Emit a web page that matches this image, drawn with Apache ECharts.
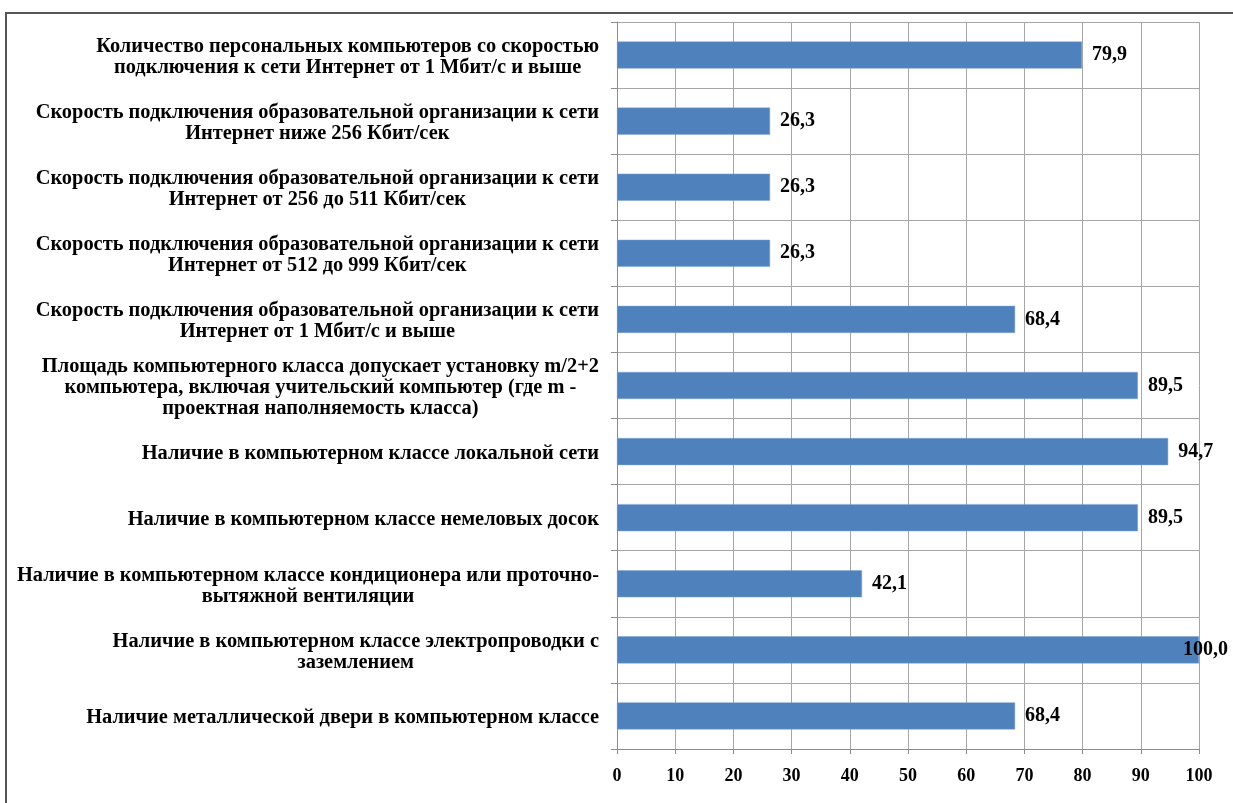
<!DOCTYPE html>
<html>
<head>
<meta charset="utf-8">
<style>
  html, body { margin: 0; padding: 0; background: #fff; }
  #chart { width: 1233px; height: 803px; }
</style>
<script src="https://cdn.jsdelivr.net/npm/echarts@6/dist/echarts.min.js"></script>
</head>
<body>
<div id="chart"></div>
<script>
// категории сверху вниз
const categories = [
  'Количество персональных компьютеров со скоростью\nподключения к сети Интернет от 1 Мбит/с и выше',
  'Скорость подключения образовательной организации к сети\nИнтернет ниже 256 Кбит/сек',
  'Скорость подключения образовательной организации к сети\nИнтернет от 256 до 511 Кбит/сек',
  'Скорость подключения образовательной организации к сети\nИнтернет от 512 до 999 Кбит/сек',
  'Скорость подключения образовательной организации к сети\nИнтернет от 1 Мбит/с и выше',
  'Площадь компьютерного класса допускает установку m/2+2\nкомпьютера, включая учительский компьютер (где m -\nпроектная наполняемость класса)',
  'Наличие в компьютерном классе локальной сети',
  'Наличие в компьютерном классе немеловых досок',
  'Наличие в компьютерном классе кондиционера или проточно-\nвытяжной вентиляции',
  'Наличие в компьютерном классе электропроводки с\nзаземлением',
  'Наличие металлической двери в компьютерном классе'
];
const values = [79.9, 26.3, 26.3, 26.3, 68.4, 89.5, 94.7, 89.5, 42.1, 100.0, 68.4];
const xTicks = { min: 0, max: 100, interval: 10 };

const font = '"Liberation Serif", "Times New Roman", serif';
const chart = echarts.init(document.getElementById('chart'));

// подпись у 100 сдвинута внутрь, как в исходнике
const barData = values.map(v => v >= 100
  ? { value: v, label: { offset: [-26, 0] } }
  : v);

chart.setOption({
  backgroundColor: '#fff',
  animation: false,
  graphic: [{
    type: 'rect',
    shape: { x: 6, y: 13, width: 1300, height: 900 },
    style: { fill: 'none', stroke: '#555', lineWidth: 2 }
  }],
  grid: { left: 617, right: 34, top: 22, bottom: 54 },
  xAxis: {
    type: 'value',
    min: xTicks.min,
    max: xTicks.max,
    interval: xTicks.interval,
    axisLine: { show: true, lineStyle: { color: '#8c8c8c' } },
    axisTick: { show: true, length: 5, lineStyle: { color: '#8c8c8c' } },
    splitLine: { show: true, lineStyle: { color: '#a6a6a6' } },
    axisLabel: {
      margin: 18,
      fontFamily: font, fontWeight: 'bold', fontSize: 18, color: '#000'
    }
  },
  yAxis: {
    type: 'category',
    inverse: true,
    data: categories,
    axisLine: { show: true, lineStyle: { color: '#8c8c8c' } },
    axisTick: { show: true, length: 6, lineStyle: { color: '#8c8c8c' } },
    splitLine: { show: true, lineStyle: { color: '#a6a6a6' } },
    axisLabel: {
      margin: 18,
      padding: [4, 0, 0, 0],
      formatter: v => v.split('\n').map(s => '{c|' + s + '}').join('\n'),
      rich: {
        c: {
          align: 'center',
          fontFamily: font, fontWeight: 'bold', fontSize: 20.4,
          lineHeight: 21, color: '#000'
        }
      }
    }
  },
  series: [{
    type: 'bar',
    data: barData,
    barWidth: '41%',
    itemStyle: { color: '#4f81bd', borderColor: '#7fa4d3', borderWidth: 0.5 },
    label: {
      show: true,
      position: 'right',
      distance: 10,
      formatter: p => p.value.toFixed(1).replace('.', ','),
      fontFamily: font, fontWeight: 'bold', fontSize: 20, color: '#000'
    }
  }]
});
</script>
</body>
</html>
